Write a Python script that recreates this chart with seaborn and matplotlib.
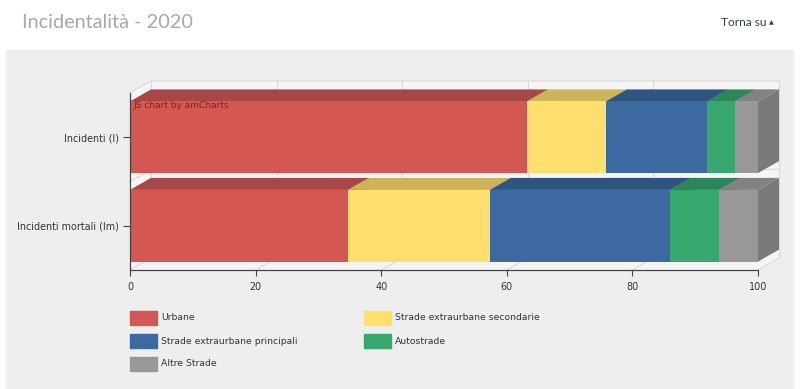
import matplotlib
matplotlib.use("Agg")
import matplotlib.pyplot as plt
from matplotlib.patches import Polygon, Rectangle
import seaborn as sns
import numpy as np

# data (percent shares per road type)
categories = ["Incidenti (I)", "Incidenti mortali (Im)"]
series = ["Urbane", "Strade extraurbane secondarie", "Strade extraurbane principali",
          "Autostrade", "Altre Strade"]
urbane = [63.2, 34.7]
secondarie = [12.6, 22.6]
principali = [16.1, 28.7]
autostrade = [4.4, 7.8]
altre = [3.7, 6.2]
x_ticks = [0, 20, 40, 60, 80, 100]

front_colors = ["#d45753", "#ffdf6e", "#3c69a0", "#37a76f", "#989898"]
top_colors = ["#a84846", "#cdb35a", "#2e5580", "#2b8658", "#828282"]

values = np.array([urbane, secondarie, principali, autostrade, altre])
cum = np.cumsum(values, axis=0)

sns.set_theme(style="white")
plt.rcParams["font.family"] = ["DejaVu Sans"]

W, H = 800, 389
fig = plt.figure(figsize=(W / 100, H / 100), dpi=100)
fig.patch.set_facecolor("white")

def fx(px):
    return px / W

def fy(py):
    return 1 - py / H

# grey panel behind the chart
fig.patches.append(Rectangle((fx(6), 0), fx(793) - fx(6), fy(50),
                             transform=fig.transFigure, color="#eeeeee", zorder=-5))

fig.text(fx(22), fy(22), "Incidentalità - 2020", fontsize=14.3, color="#a4a9ae",
         family=["Lato", "DejaVu Sans"], va="center", ha="left")
fig.text(fx(721), fy(23), "Torna su", fontsize=8.6, color="#2b3d50",
         family=["Lato", "DejaVu Sans"], va="center", ha="left")
fig.text(fx(769), fy(23), "▲", fontsize=4.5, color="#2b3d50", va="center", ha="left")

ax = fig.add_axes([fx(130), fy(270), fx(758) - fx(130), (270 - 93) / H])
ax.set_facecolor("none")

BAR = 0.81
DX = 100 * 21 / 628          # depth offset in data units
DY = 2 * 12 / 177

# back wall, floor, grid
wall_c = "#f5f5f5"
line_c = "#dadada"
ax.add_patch(Rectangle((DX, -0.5 - DY), 100, 2, facecolor=wall_c, edgecolor="none",
                       zorder=0.2, clip_on=False))
ax.add_patch(Polygon([(0, 1.5), (100, 1.5), (100 + DX, 1.5 - DY), (DX, 1.5 - DY)],
                     facecolor=wall_c, edgecolor="none", zorder=0.2, clip_on=False))
ax.add_patch(Polygon([(0, -0.5), (DX, -0.5 - DY), (DX, 1.5 - DY), (0, 1.5)],
                     facecolor=wall_c, edgecolor="none", zorder=0.2, clip_on=False))
for t in x_ticks:
    ax.plot([t, t + DX], [1.5, 1.5 - DY], color=line_c, lw=0.8, zorder=0.3, clip_on=False)
    ax.plot([t + DX, t + DX], [1.5 - DY, -0.5 - DY], color=line_c, lw=0.8, zorder=0.3,
            clip_on=False)
ax.plot([0, DX, 100 + DX], [-0.5, -0.5 - DY, -0.5 - DY], color=line_c, lw=0.8,
        zorder=0.3, clip_on=False)
for yb in [0.5]:
    ax.plot([0, DX, 100 + DX], [yb, yb - DY, yb - DY], color=line_c, lw=0.8,
            zorder=0.3, clip_on=False)

# front faces: stacked by layering the cumulative totals
for k in reversed(range(len(series))):
    sns.barplot(x=cum[k], y=categories, orient="h", color=front_colors[k],
                saturation=1, width=BAR, errorbar=None, linewidth=0, zorder=3, ax=ax)

# top and side faces for the 3D look
for j in range(len(categories)):
    top = j - BAR / 2
    bot = j + BAR / 2
    for k in range(len(series)):
        right = cum[k][j]
        left = right - values[k][j]
        side_c = "#7a7a7a" if k == len(series) - 1 else top_colors[k]
        ax.add_patch(Polygon([(right, top), (right + DX, top - DY), (right + DX, bot - DY),
                              (right, bot)], facecolor=side_c, edgecolor="none",
                             zorder=2 + k * 0.01, clip_on=False))
        ax.add_patch(Polygon([(left, top), (right, top), (right + DX, top - DY),
                              (left + DX, top - DY)], facecolor=top_colors[k],
                             edgecolor="none", zorder=2 + k * 0.01 + 0.005, clip_on=False))

ax.set_xlim(0, 100)
ax.set_ylim(1.5, -0.5)
ax.set_xticks(x_ticks)
ax.set_xlabel("")
ax.set_ylabel("")
for s in ["top", "right"]:
    ax.spines[s].set_visible(False)
for s in ["left", "bottom"]:
    ax.spines[s].set_color("#444444")
    ax.spines[s].set_linewidth(0.9)
    ax.spines[s].set_zorder(4)
ax.tick_params(axis="y", length=5, width=0.8, color="#444444", labelsize=6.9,
               labelcolor="#333333", pad=3, left=True)
ax.tick_params(axis="x", length=4, width=0.8, color="#444444", labelsize=6.9,
               labelcolor="#333333", pad=5, bottom=True)

ax.text(0.5, -0.36, "JS chart by amCharts", fontsize=6.5, color="#7a2826",
        va="center", ha="left", zorder=5)

# legend, two columns
for k, name in enumerate(series):
    row, col = k // 2, k % 2
    x0 = [130, 364][col]
    yc = 318 + row * 23
    fig.patches.append(Rectangle((fx(x0), fy(yc + 7)), 27 / W, 14 / H,
                                 transform=fig.transFigure, color=front_colors[k], zorder=2))
    fig.text(fx(x0 + 31), fy(yc), name, fontsize=6.7, color="#333333",
             va="center", ha="left")

fig.savefig("out.png", dpi=100)
